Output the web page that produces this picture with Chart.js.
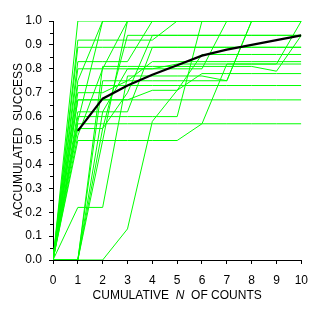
<!DOCTYPE html>
<html>
<head>
<meta charset="utf-8">
<script src="https://cdn.jsdelivr.net/npm/chart.js@4/dist/chart.umd.min.js"></script>
<style>
html, body { margin: 0; padding: 0; background: #fff; }
#wrap { width: 317px; height: 319px; position: relative; }
</style>
</head>
<body>
<div id="wrap"><canvas id="successChart"></canvas></div>
<script>
// cumulative number of counts (x)
const counts = [0, 1, 2, 3, 4, 5, 6, 7, 8, 9, 10];

// mean accumulated success (black curve), starts at 1 count
const meanSuccess = [null, 0.54, 0.675, 0.73, 0.775, 0.815, 0.855, 0.88, 0.90, 0.92, 0.94];

// individual curves (green), one value per count
const trial1  = [0, 1.00, 1.00, 1.00, 1.00, 1.00, 1.00, 1.00, 1.00, 1.00, 1.00];
const trial2  = [0, 0.89, 0.89, 0.89, 0.89, 0.89, 0.89, 0.89, 0.89, 0.89, 0.89];
const trial3  = [0, 0.75, 1.00, 1.00, 1.00, 1.00, 1.00, 1.00, 1.00, 1.00, 1.00];
const trial4  = [0, 0.73, 0.73, 0.73, 0.73, 0.73, 0.73, 0.73, 0.73, 0.73, 0.73];
const trial5  = [0, 0.67, 0.67, 0.67, 0.71, 0.71, 0.86, 0.86, 0.86, 0.86, 0.86];
const trial6  = [0, 0.60, 0.60, 0.60, 0.60, 0.60, 1.00, 1.00, 1.00, 1.00, 1.00];
const trial7  = [0, 0.57, 0.57, 0.57, 0.57, 0.57, 0.57, 0.57, 0.57, 0.57, 0.57];
const trial8  = [0, 0.50, 0.50, 0.50, 0.50, 0.50, 0.57, 0.82, 0.82, 0.82, 1.00];
const trial9  = [0, 0.22, 0.22, 0.77, 0.77, 0.77, 0.77, 0.75, 1.00, 1.00, 1.00];
const trial10 = [0, 0.00, 0.81, 0.81, 0.81, 0.81, 0.81, 0.81, 0.81, 0.79, 0.94];
const trial11 = [0, 0.00, 0.55, 0.94, 0.94, 0.94, 0.94, 0.94, 0.94, 0.94, 0.94];
const trial12 = [0, 0.00, 0.00, 0.13, 0.58, 0.71, 0.78, 0.78, 0.78, 0.78, 0.78];
const trial13 = [0, 0.80, 0.80, 1.00, 1.00, 1.00, 1.00, 1.00, 1.00, 1.00, 1.00];
const trial14 = [0, 0.83, 0.83, 0.83, 1.00, 1.00, 1.00, 1.00, 1.00, 1.00, 1.00];
const trial15 = [0, 0.70, 0.70, 0.75, 0.83, 0.83, 0.83, 0.83, 0.83, 0.83, 0.83];
const trial16 = [0, 0.92, 0.92, 0.92, 0.92, 1.00, 1.00, 1.00, 1.00, 1.00, 1.00];
const trial17 = [0, 0.67, 0.67, 0.67, 0.67, 0.67, 0.67, 0.67, 0.67, 0.67, 0.67];
const trial18 = [0, 0.00, 0.75, 0.75, 0.75, 0.75, 0.75, 0.75, 1.00, 1.00, 1.00];
const trial19 = [0, 0.55, 0.55, 0.70, 0.94, 0.94, 0.94, 0.94, 0.94, 0.94, 0.94];
const trial20 = [0, 0.62, 0.62, 0.80, 0.80, 0.80, 0.80, 1.00, 1.00, 1.00, 1.00];
const trial21 = [0, 0.00, 0.50, 1.00, 1.00, 1.00, 1.00, 1.00, 1.00, 1.00, 1.00];
const trial22 = [0, 0.00, 0.62, 0.62, 0.89, 0.89, 0.89, 0.89, 0.89, 0.89, 0.89];
const trial23 = [0, 0.58, 1.00, 1.00, 1.00, 1.00, 1.00, 1.00, 1.00, 1.00, 1.00];
const trial24 = [0, 0.52, 0.80, 0.80, 0.80, 0.82, 0.82, 0.82, 0.82, 0.82, 0.82];

const trials = [trial1, trial2, trial3, trial4, trial5, trial6, trial7, trial8,
    trial9, trial10, trial11, trial12, trial13, trial14, trial15, trial16,
    trial17, trial18, trial19, trial20, trial21, trial22, trial23, trial24];

const FONT = "'Liberation Sans', Arial, sans-serif";

function toPoints(values){
    return values.map((v, i) => ({ x: counts[i], y: v }));
}

const datasets = [{
    data: toPoints(meanSuccess),
    borderColor: "#000000",
    borderWidth: 2.2
}];

trials.forEach(t => {
    datasets.push({
        data: toPoints(t),
        borderColor: "#00ff00",
        borderWidth: 1
    });
});

// short minor ticks at the half steps of the y axis
const minorTicks = {
    id: "minorTicks",
    afterDraw(chart){
        const ctx = chart.ctx;
        const y = chart.scales.y;
        const x0 = chart.chartArea.left;
        ctx.save();
        ctx.strokeStyle = "#000";
        ctx.lineWidth = 1;
        for(let k = 0; k < 10; k++){
            const py = Math.round(y.getPixelForValue(0.05 + k * 0.1)) + 0.5;
            ctx.beginPath();
            ctx.moveTo(x0 - 3, py);
            ctx.lineTo(x0, py);
            ctx.stroke();
        }
        ctx.restore();
    }
};

// x title with an italic N
const xTitle = {
    id: "xTitle",
    afterDraw(chart){
        const ctx = chart.ctx;
        const area = chart.chartArea;
        const parts = [
            ["CUMULATIVE  ", "normal"],
            ["N", "italic"],
            ["  OF COUNTS", "normal"]
        ];
        ctx.save();
        ctx.fillStyle = "#000";
        ctx.textBaseline = "middle";
        let total = 0;
        parts.forEach(p => {
            ctx.font = p[1] + " 12px " + FONT;
            total += ctx.measureText(p[0]).width;
        });
        let x = (area.left + area.right) / 2 - total / 2;
        parts.forEach(p => {
            ctx.font = p[1] + " 12px " + FONT;
            ctx.fillText(p[0], x, 296);
            x += ctx.measureText(p[0]).width;
        });
        ctx.restore();
    }
};

new Chart(document.getElementById("successChart"), {
    type: "line",
    data: { datasets: datasets },
    options: {
        responsive: true,
        maintainAspectRatio: false,
        animation: false,
        events: [],
        layout: { padding: { top: 21, right: 11, left: 0, bottom: 0 } },
        elements: {
            point: { radius: 0 },
            line: { tension: 0 }
        },
        plugins: {
            legend: { display: false },
            tooltip: { enabled: false }
        },
        scales: {
            x: {
                type: "linear",
                min: 0,
                max: 10,
                afterFit: scale => { scale.height = 59; },
                ticks: {
                    stepSize: 1,
                    color: "#000",
                    font: { family: FONT, size: 12 },
                    padding: 9,
                    maxRotation: 0
                },
                grid: {
                    drawOnChartArea: false,
                    tickLength: 4,
                    color: "#000"
                },
                border: { color: "#000" }
            },
            y: {
                min: 0,
                max: 1,
                afterFit: scale => { scale.width = 53; },
                ticks: {
                    stepSize: 0.1,
                    color: "#000",
                    font: { family: FONT, size: 12 },
                    padding: 7,
                    callback: v => v.toFixed(1)
                },
                grid: {
                    drawOnChartArea: false,
                    tickLength: 4,
                    color: "#000"
                },
                border: { color: "#000" },
                title: {
                    display: true,
                    text: "ACCUMULATED  SUCCESS",
                    color: "#000",
                    font: { family: FONT, size: 12 },
                    padding: { top: 11, bottom: 0 }
                }
            }
        }
    },
    plugins: [minorTicks, xTitle]
});
</script>
</body>
</html>
